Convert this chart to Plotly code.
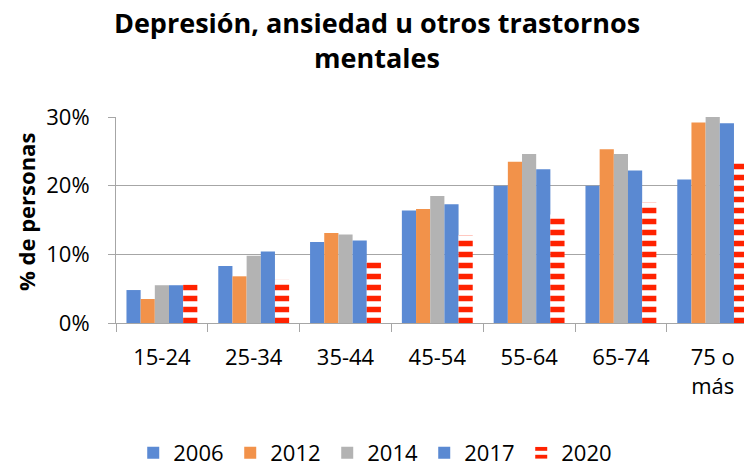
import plotly.graph_objects as go

categories = ["15-24", "25-34", "35-44", "45-54", "55-64", "65-74", "75 o<br>más"]
years = ["2006", "2012", "2014", "2017", "2020"]
v2006 = [4.8, 8.3, 11.8, 16.4, 20.0, 20.0, 20.9]
v2012 = [3.5, 6.8, 13.1, 16.6, 23.5, 25.3, 29.2]
v2014 = [5.5, 9.8, 12.9, 18.5, 24.6, 24.6, 30.2]
v2017 = [5.5, 10.4, 12.0, 17.3, 22.4, 22.2, 29.1]
v2020 = [5.6, 6.3, 8.9, 12.8, 15.8, 17.6, 23.5]
ytick_vals = [0, 10, 20, 30]
ytick_text = ["0%", "10%", "20%", "30%"]

series = [v2006, v2012, v2014, v2017, v2020]
colors = ["#5B8AD4", "#F2924A", "#B3B3B3", "#5A89D2", "#FF2200"]

FONT = "Open Sans"
fig = go.Figure()
for name, vals, col in zip(years, series, colors):
    if name == "2020":
        marker = dict(color="#FF2200",
                      pattern=dict(shape="-", fgcolor="#FF2200", bgcolor="white",
                                   size=11, solidity=0.5, fillmode="replace"),
                      line=dict(width=0))
    else:
        marker = dict(color=col, line=dict(width=0))
    fig.add_trace(go.Bar(x=categories, y=vals, name=name, marker=marker))

grid = "#A6A6A6"
fig.update_layout(
    width=752, height=466,
    margin=dict(l=108, r=8, t=109, b=151, autoexpand=False),
    paper_bgcolor="white", plot_bgcolor="white",
    barmode="group", bargap=0.228, bargroupgap=0,
    font=dict(family=FONT, color="black", size=22),
    title=dict(text="<b>Depresión, ansiedad u otros trastornos<br>mentales</b>",
               x=0.4907, xref="container", xanchor="center",
               y=1 - 25 / 466, yref="container", yanchor="top",
               font=dict(family=FONT, size=27, color="black")),
    showlegend=True,
    legend=dict(orientation="h", x=0.489, xref="container", xanchor="center",
                y=21 / 466, yref="container", yanchor="middle",
                font=dict(family=FONT, size=22), entrywidth=52,
                entrywidthmode="pixels", traceorder="normal"),
    xaxis=dict(type="category", range=[-0.5, 6.428], showgrid=False,
               automargin=False,
               showline=True, linecolor=grid, linewidth=1,
               ticks="outside", tickson="boundaries", ticklen=8,
               tickcolor=grid, tickwidth=1, ticklabelstandoff=15,
               tickfont=dict(family=FONT, size=22)),
    yaxis=dict(range=[0, 30], tickvals=ytick_vals, ticktext=ytick_text,
               automargin=False,
               showgrid=True, gridcolor=grid, gridwidth=1,
               showline=True, linecolor=grid, linewidth=1, zeroline=False,
               ticks="outside", ticklen=7, tickcolor=grid, tickwidth=1,
               ticklabelstandoff=14,
               tickfont=dict(family=FONT, size=22)),
    annotations=[dict(text="<b>% de personas</b>", textangle=-90,
                      xref="paper", yref="paper",
                      x=(18 - 108) / 636, y=(315 - 204) / 206,
                      xanchor="center", yanchor="middle", showarrow=False,
                      font=dict(family=FONT, size=22, color="black"))],
)

fig.write_html("out.html")
